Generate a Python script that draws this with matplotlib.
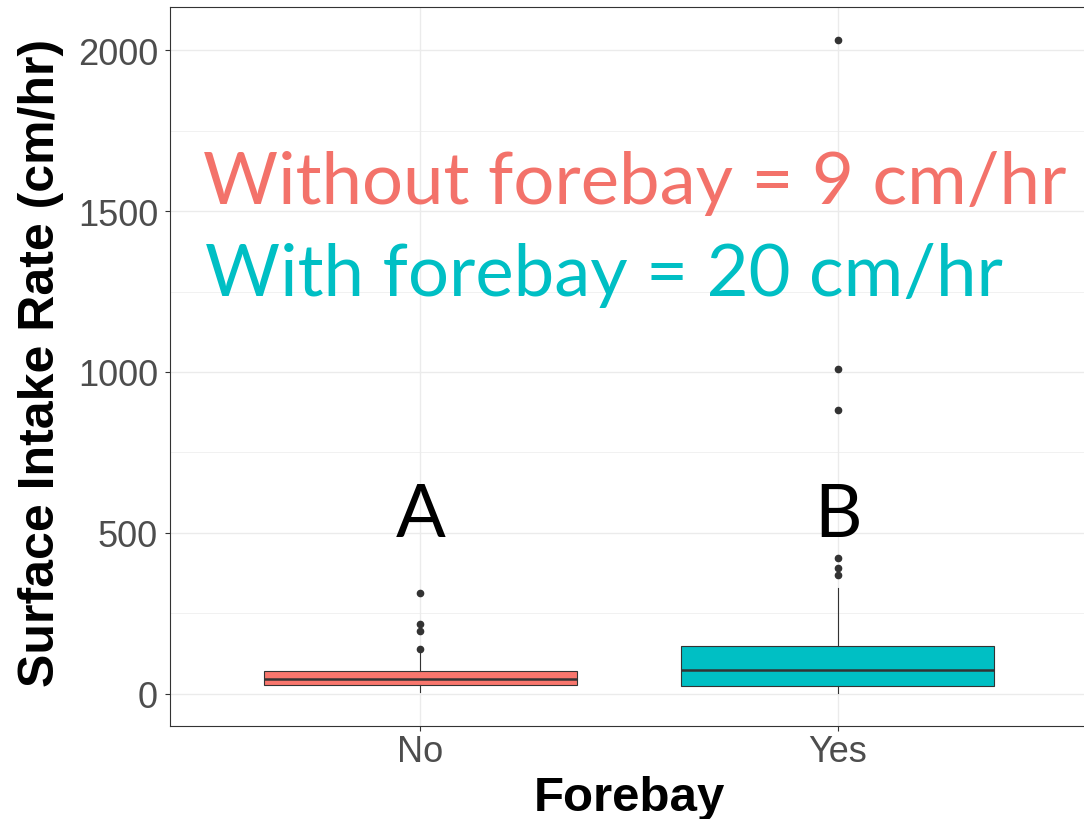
import matplotlib
matplotlib.use("Agg")
from matplotlib import pyplot as plt
from matplotlib.ticker import MultipleLocator

# box statistics (cm/hr)
groups = ["No", "Yes"]
q1 = [26, 24]
median = [47, 72]
q3 = [70.5, 148]
whisker_low = [6, 3]
whisker_high = [130, 329]
outliers_no = [139, 195, 217, 314]
outliers_yes = [370, 392, 423, 883, 1010, 2033]
group_letters = ["A", "B"]
letter_y = [491, 491]
box_colors = ["#F8766D", "#00BFC4"]

W, H = 1084, 820
fig = plt.figure(figsize=(W / 100, H / 100), dpi=100)
ax = fig.add_axes([170 / W, 1 - 727 / H, 918 / W, 719 / H])

stats = []
for i, fl in enumerate([outliers_no, outliers_yes]):
    stats.append(dict(med=median[i], q1=q1[i], q3=q3[i],
                      whislo=whisker_low[i], whishi=whisker_high[i],
                      fliers=fl, label=groups[i]))

bp = ax.bxp(stats, positions=[0, 1], widths=0.75, patch_artist=True,
            showcaps=False,
            boxprops=dict(edgecolor="#333333", linewidth=0.8),
            medianprops=dict(color="#333333", linewidth=1.8),
            whiskerprops=dict(color="#333333", linewidth=0.8),
            flierprops=dict(marker="o", markersize=4.5, markerfacecolor="#333333",
                            markeredgecolor="#333333"))
for patch, c in zip(bp["boxes"], box_colors):
    patch.set_facecolor(c)

ax.set_xlim(-0.6, 1.6)
ax.set_ylim(-100.6, 2134.6)
ax.yaxis.set_major_locator(MultipleLocator(500))
ax.yaxis.set_minor_locator(MultipleLocator(250))
ax.set_xticks([0, 1])
ax.set_xticklabels(groups)

ax.grid(True, which="major", color="#EBEBEB", linewidth=1.0)
ax.grid(True, which="minor", axis="y", color="#EBEBEB", linewidth=0.5)
ax.set_axisbelow(True)

for s in ax.spines.values():
    s.set_color("#333333")
    s.set_linewidth(0.8)
ax.spines["right"].set_visible(False)

ax.tick_params(which="major", length=3.6, width=0.8, color="#333333",
               labelcolor="#4D4D4D", labelsize=26)
ax.tick_params(which="minor", length=0)
ax.tick_params(axis="y", pad=5)
ax.tick_params(axis="x", pad=2)
for lab in ax.get_xticklabels() + ax.get_yticklabels():
    lab.set_fontfamily("Liberation Sans")

for i, t in enumerate(group_letters):
    ax.text(i, letter_y[i], t, ha="center", va="baseline", fontsize=53,
            family="Lato", color="black")

fig.text(203 / W, 1 - 203.5 / H, "Without forebay = 9 cm/hr", fontsize=52.2,
         family="Lato", color="#F3726A", ha="left", va="baseline")
fig.text(205 / W, 1 - 296 / H, "With forebay = 20 cm/hr", fontsize=52.2,
         family="Lato", color="#00BFC4", ha="left", va="baseline")

fig.text(41.5 / W, 1 - 362.5 / H, "Surface Intake Rate (cm/hr)", rotation=90,
         fontsize=36, fontweight="bold", family="Liberation Sans",
         ha="center", va="center")
fig.text(629 / W, 1 - 810.7 / H, "Forebay", fontsize=35.5, fontweight="bold",
         family="Liberation Sans", ha="center", va="baseline")

fig.savefig("out.png", dpi=100)
